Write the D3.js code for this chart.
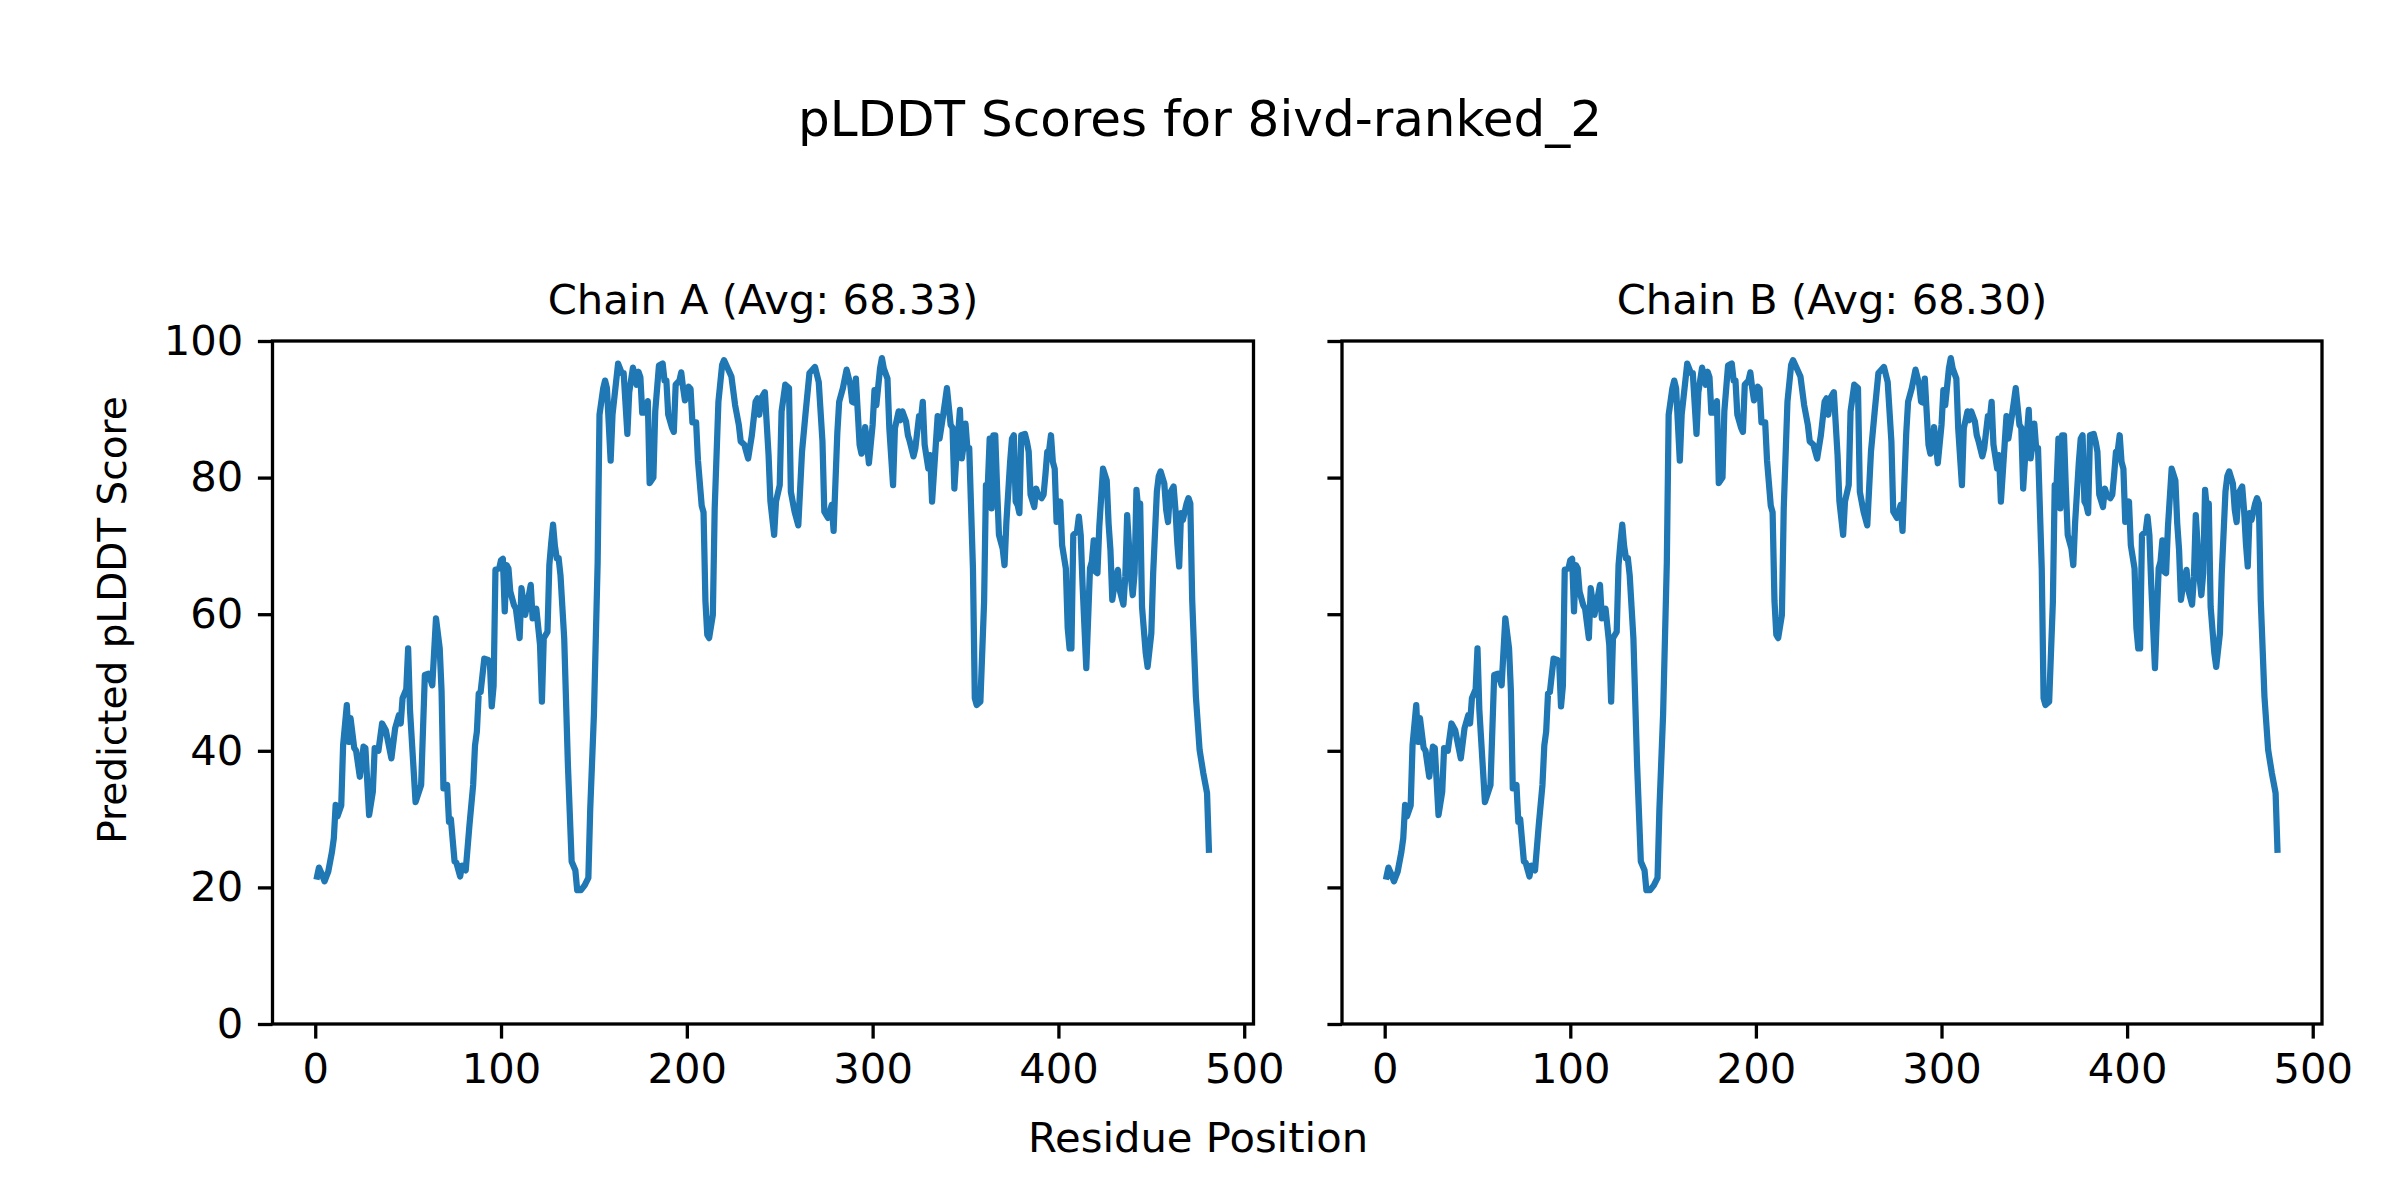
<!DOCTYPE html>
<html>
<head>
<meta charset="utf-8">
<script src="https://cdn.jsdelivr.net/npm/d3@7"></script>
<style>
  html, body { margin: 0; padding: 0; background: #fff; }
  svg { display: block; }
  text { font-family: "DejaVu Sans", sans-serif; fill: #000; }
</style>
</head>
<body>
<svg id="chart" width="2400" height="1200"></svg>
<script>
// ---- Data ----
const figureTitle = "pLDDT Scores for 8ivd-ranked_2";
const chainTitles = ["Chain A (Avg: 68.33)", "Chain B (Avg: 68.30)"];
const xLabel = "Residue Position";
const yLabel = "Predicted pLDDT Score";
const xTicks = [0, 100, 200, 300, 400, 500];
const yTicks = [0, 20, 40, 60, 80, 100];

// residue positions of the line's vertices
const residuesA = [
  1,2,3,5,7,9,10,11,12,14,15,17,18,19,21,22,24,26,27,29,31,32,34,36,38,41,43,45,46,47,49,50,51,54,57,59,61,63,65,67,68,69,
  71,72,73,75,76,78,79,81,83,85,86,87,88,89,91,93,94,95,96,97,99,100,101,102,103,104,105,107,108,110,111,113,114,116,117,119,121,122,123,125,126,127,128,129,130,131,132,134,136,138,140,141,
  143,145,147,148,150,152,153,155,156,157,159,160,162,163,165,166,168,169,171,173,174,175,176,178,179,180,182,183,185,187,188,189,190,192,193,194,196,197,198,199,201,202,203,205,206,208,209,210,211,
  212,214,215,217,219,220,222,224,226,228,229,231,233,235,237,238,239,240,242,244,245,247,248,250,251,253,255,256,258,260,262,264,266,269,271,273,274,276,278,279,281,
  282,284,286,288,289,290,291,293,294,295,296,297,298,300,301,302,304,305,306,308,309,311,312,314,315,316,318,319,320,322,323,325,326,327,328,330,331,332,334,335,336,338,339,340,342,343,344,345,347,348,
  349,350,351,352,354,355,356,358,360,361,362,363,364,365,366,367,368,370,371,372,374,375,376,377,378,379,380,382,383,384,385,387,388,389,391,392,393,394,395,396,397,398,399,401,402,404,405,406,407,408,410,411,412,413,415,417,418,419,420,
  421,422,424,426,427,428,429,430,432,433,435,436,437,439,440,441,442,443,444,445,447,448,450,451,453,454,455,457,458,459,460,462,463,464,465,466,467,469,470,471,472,474,476,478,480,481
];
// pLDDT score at each of those residues (chain A)
const scoresA = [
  21.6,22.9,22.3,20.9,22.3,25.2,27.2,32.1,30.4,32.0,40.8,46.7,41.3,44.8,40.4,40.0,36.2,40.6,40.4,30.6,34.0,40.4,40.0,44.0,43.0,38.9,43.3,45.2,44.0,47.7,49.0,55.0,46.0,32.5,35.0,51.1,51.3,49.6,59.4,55.0,48.7,34.5,
  35.0,29.6,30.0,23.8,23.6,21.6,23.2,22.5,29.1,35.0,40.8,42.8,48.4,48.6,53.5,53.3,53.0,46.5,49.5,66.5,66.7,67.9,68.1,60.4,67.2,66.7,63.3,61.3,60.8,56.5,63.8,59.9,61.3,64.3,59.4,60.8,55.5,47.2,56.5,57.4,67.2,70.4,73.1,70.0,68.2,68.2,65.7,56.5,37.9,23.8,22.5,19.6,
  19.6,20.3,21.4,31.4,45.3,67.5,89.2,93.1,94.2,93.1,82.5,89.2,94.2,96.7,95.3,95.3,86.4,92.5,96.1,93.6,95.5,94.7,89.5,89.5,91.2,79.2,80.0,89.7,96.4,96.7,94.2,94.2,89.2,87.3,86.7,93.6,94.2,95.4,93.1,91.3,93.3,93.0,88.1,88.1,82.5,75.9,74.9,62.0,57.0,
  56.5,59.9,75.5,91.1,96.5,97.2,96.0,94.8,90.6,87.7,85.3,84.8,82.8,86.2,91.1,91.6,89.2,91.6,92.5,83.3,76.5,71.6,76.5,78.9,89.7,93.6,93.1,77.9,75.0,73.0,83.8,89.7,95.3,96.2,94.0,85.3,75.0,74.1,76.0,72.2,86.5,
  91.1,93.1,95.8,93.6,91.1,91.0,94.5,84.8,83.5,84.0,87.4,84.8,82.1,87.7,92.8,90.6,96.0,97.5,96.0,94.5,87.2,78.9,87.2,89.7,88.4,89.7,88.2,86.2,85.3,83.1,84.3,89.0,88.5,91.1,84.8,81.3,83.3,76.5,84.8,89.0,85.7,89.2,91.1,93.1,87.7,87.3,78.4,82.8,89.9,82.8,
  84.8,87.9,84.3,84.3,66.7,47.7,46.7,47.2,61.8,78.9,78.9,85.7,75.5,86.2,86.2,78.4,71.6,69.6,67.2,73.5,82.3,85.7,86.2,76.5,76.0,74.8,86.2,86.4,85.3,83.8,77.5,75.7,78.4,77.5,77.0,77.5,80.4,83.8,84.0,86.2,82.3,81.3,73.5,76.5,70.1,66.7,58.0,55.0,55.0,71.6,72.1,74.3,71.6,64.3,52.1,66.7,67.7,70.8,66.2,
  66.0,72.8,81.3,79.6,73.3,69.4,62.1,64.0,66.5,63.5,61.4,65.5,74.5,65.5,62.8,66.0,78.2,75.3,76.2,61.1,54.3,52.3,57.2,66.0,78.0,80.2,80.9,79.1,75.3,73.5,77.7,78.7,75.3,70.4,67.0,74.8,73.8,76.2,77.0,76.2,62.1,47.9,40.1,36.7,33.8,25.5
];
// Chain B is drawn with the same profile (the two chains are visually identical)
const residuesB = residuesA;
const scoresB = scoresA;

// ---- Layout ----
const W = 2400, H = 1200;
const panels = [
  { left: 272.5, right: 1253.5, title: chainTitles[0], res: residuesA, sc: scoresA, yLabels: true },
  { left: 1342, right: 2322, title: chainTitles[1], res: residuesB, sc: scoresB, yLabels: false }
];
const plotTop = 341, plotBottom = 1024;
const tickLen = 14.6, tickPad = 14.6;
const tickFont = 41.7, labelFont = 41.7, yLabelFont = 39, titleFont = 41.7, supFont = 50;
const lineColor = "#1f77b4";

const svg = d3.select("#chart");
svg.append("rect").attr("width", W).attr("height", H).attr("fill", "#fff");

svg.append("text")
  .attr("x", 1200).attr("y", 136)
  .attr("text-anchor", "middle")
  .style("font-size", supFont + "px")
  .text(figureTitle);

panels.forEach(p => {
  const x = d3.scaleLinear().domain([-23, 505]).range([p.left, p.right]);
  const y = d3.scaleLinear().domain([0, 100]).range([plotBottom, plotTop]);
  const g = svg.append("g");

  // line
  const pts = p.res.map((r, i) => [r, p.sc[i]]);
  g.append("path")
    .datum(pts)
    .attr("fill", "none")
    .attr("stroke", lineColor)
    .attr("stroke-width", 6.25)
    .attr("stroke-linejoin", "round")
    .attr("stroke-linecap", "square")
    .attr("d", d3.line().x(d => x(d[0])).y(d => y(d[1])));

  // frame
  g.append("rect")
    .attr("x", p.left).attr("y", plotTop)
    .attr("width", p.right - p.left).attr("height", plotBottom - plotTop)
    .attr("fill", "none").attr("stroke", "#000").attr("stroke-width", 3.3);

  // x axis
  const xAxis = d3.axisBottom(x).tickValues(xTicks).tickSize(tickLen).tickPadding(tickPad).tickFormat(d3.format("d"));
  const gx = g.append("g").attr("transform", `translate(0,${plotBottom})`).call(xAxis);
  gx.select(".domain").remove();
  gx.selectAll(".tick line").attr("stroke", "#000").attr("stroke-width", 3.3);
  gx.selectAll(".tick text").style("font-size", tickFont + "px").style("font-family", "DejaVu Sans").attr("fill", "#000");

  // y axis
  const yAxis = d3.axisLeft(y).tickValues(yTicks).tickSize(tickLen).tickPadding(tickPad)
    .tickFormat(p.yLabels ? d3.format("d") : () => "");
  const gy = g.append("g").attr("transform", `translate(${p.left},0)`).call(yAxis);
  gy.select(".domain").remove();
  gy.selectAll(".tick line").attr("stroke", "#000").attr("stroke-width", 3.3);
  gy.selectAll(".tick text").style("font-size", tickFont + "px").style("font-family", "DejaVu Sans").attr("fill", "#000");

  // subplot title
  g.append("text")
    .attr("x", (p.left + p.right) / 2).attr("y", 314)
    .attr("text-anchor", "middle")
    .style("font-size", titleFont + "px")
    .text(p.title);
});

// shared axis labels
svg.append("text")
  .attr("x", 1198).attr("y", 1152)
  .attr("text-anchor", "middle")
  .style("font-size", labelFont + "px")
  .text(xLabel);

svg.append("text")
  .attr("transform", "translate(126,620) rotate(-90)")
  .attr("text-anchor", "middle")
  .style("font-size", yLabelFont + "px")
  .text(yLabel);
</script>
</body>
</html>
